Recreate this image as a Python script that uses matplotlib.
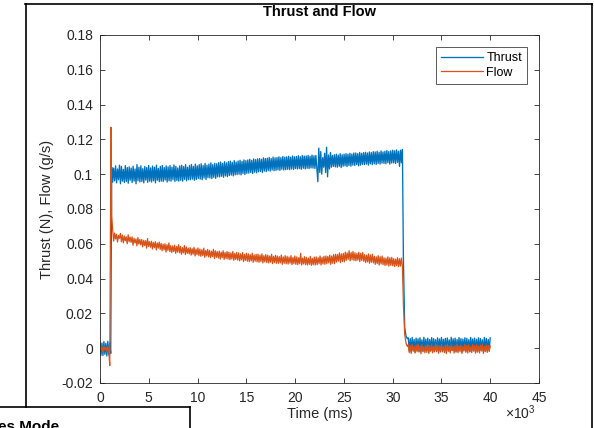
import numpy as np
import matplotlib
matplotlib.use("Agg")
import matplotlib.pyplot as plt
from matplotlib.lines import Line2D
from matplotlib.ticker import FixedLocator, FixedFormatter

plt.rcParams['font.family'] = ['Liberation Sans', 'DejaVu Sans']
plt.rcParams['mathtext.fontset'] = 'custom'
plt.rcParams['mathtext.rm'] = 'Liberation Sans'
plt.rcParams['mathtext.it'] = 'Liberation Sans'

# ---------------- data (values in units of 1e-4) ----------------
series_names = ["Thrust", "Flow"]

thrust_pre = [35, -40, 30, -42, 38, -35, 28, -45, 40, -38, 32, -30]
thrust_main = [
    1040, 955, 1035, 962, 1048, 950, 1030, 968, 1052, 945,
    1045, 960, 1028, 952, 1050, 958, 1038, 948, 1042, 965,
    1035, 952, 1046, 960, 1030, 945, 1055, 962, 1040, 955,
    1048, 958, 1032, 950, 1044, 966, 1038, 953, 1050, 960,
    1036, 955, 1047, 962, 1040, 950, 1052, 965, 1033, 957,
    1045, 960, 1050, 958, 1038, 966, 1048, 955, 1042, 962,
    1050, 960, 1040, 968, 1053, 958, 1045, 964, 1036, 960,
    1048, 965, 1052, 960, 1044, 970, 1055, 962, 1040, 968,
    1050, 968, 1056, 972, 1045, 965, 1058, 970, 1048, 975,
    1055, 972, 1060, 968, 1050, 978, 1062, 970, 1052, 980,
    1058, 978, 1065, 975, 1055, 982, 1062, 976, 1060, 985,
    1066, 984, 1070, 988, 1062, 982, 1072, 990, 1065, 986,
    1072, 992, 1075, 995, 1068, 990, 1078, 996, 1070, 998,
    1076, 1000, 1080, 996, 1074, 1004, 1082, 998, 1078, 1005,
    1082, 1006, 1086, 1010, 1080, 1004, 1088, 1012, 1084, 1008,
    1088, 1014, 1090, 1016, 1086, 1010, 1094, 1018, 1090, 1015,
    1092, 1020, 1096, 1018, 1090, 1024, 1098, 1020, 1094, 1022,
    1096, 1025, 1100, 1022, 1095, 1028, 1102, 1024, 1098, 1026,
    1100, 1028, 1103, 1026, 1098, 1030, 1105, 1027, 1100, 1032,
    1102, 1030, 1106, 1032, 1100, 1028, 1108, 1034, 1104, 1030,
    1105, 1034, 1108, 1032, 1103, 1036, 1110, 1035, 1106, 1033,
    1108, 1035, 957, 1150, 1010, 1130, 1000, 1095, 1040, 1120,
    1010, 1155, 985, 1110, 1030, 1125, 1040, 1108, 1045, 1112,
    1042, 1115, 1040, 1110, 1045, 1118, 1038, 1112, 1046, 1115,
    1048, 1118, 1044, 1115, 1050, 1120, 1046, 1116, 1052, 1122,
    1050, 1122, 1055, 1118, 1048, 1125, 1052, 1120, 1056, 1124,
    1055, 1126, 1058, 1122, 1052, 1128, 1060, 1124, 1055, 1130,
    1060, 1128, 1056, 1132, 1062, 1126, 1058, 1134, 1064, 1128,
    1062, 1132, 1060, 1136, 1066, 1130, 1058, 1134, 1064, 1138,
    1065, 1135, 1062, 1140, 1068, 1132, 1045, 1138, 1066, 1142,
]
thrust_drop = [520, 120, 70, 55]
thrust_post = [
    60, -15, 55, -20, 62, -10, 50, -22, 58, -12,
    54, -18, 60, -8, 48, -20, 63, -15, 52, -10,
    58, -22, 50, -12, 61, -18, 55, -8, 49, -20,
    60, -14, 53, -10, 62, -21, 51, -12, 57, -16,
    59, -9, 48, -19, 63, -13, 54, -11, 58, -20,
    50, -15, 61, -8, 55, -22, 52, -12, 60, -17,
    57, -10, 49, -20, 62, -14, 53, -9, 58, -21,
    51, -13, 60, -16, 55, -10, 48, -19, 62, -12,
    56, -15, 50, -11, 59,
]

flow_pre = [10, -15, 8, -20, 12, -10, 5, -18, 10, -12, -100]
flow_spike = [1270, 760]
flow_main = [
    680, 615, 662, 628, 655, 610, 648, 632, 660, 612,
    650, 605, 645, 618, 640, 600, 652, 612, 638, 608,
    640, 592, 632, 605, 628, 588, 636, 598, 625, 594,
    625, 582, 620, 590, 618, 575, 630, 585, 612, 580,
    615, 570, 608, 578, 612, 565, 605, 575, 610, 568,
    602, 560, 598, 565, 600, 552, 595, 562, 605, 555,
    590, 550, 588, 556, 592, 545, 585, 552, 595, 548,
    585, 540, 578, 548, 590, 538, 582, 545, 575, 542,
    578, 535, 572, 540, 580, 530, 570, 538, 576, 532,
    570, 528, 566, 532, 575, 522, 562, 530, 568, 525,
    562, 520, 558, 526, 568, 515, 560, 522, 555, 518,
    558, 512, 552, 520, 560, 510, 550, 515, 556, 512,
    552, 508, 548, 512, 556, 505, 545, 510, 550, 506,
    548, 502, 542, 508, 550, 498, 540, 505, 546, 500,
    542, 498, 538, 502, 546, 494, 536, 500, 540, 496,
    540, 494, 535, 498, 542, 490, 532, 496, 538, 492,
    535, 490, 530, 494, 540, 486, 528, 492, 534, 488,
    530, 488, 526, 490, 536, 482, 525, 488, 532, 485,
    528, 484, 524, 488, 532, 480, 522, 486, 530, 482,
    525, 480, 520, 485, 545, 478, 518, 484, 526, 480,
    522, 478, 518, 482, 528, 476, 516, 480, 524, 478,
    525, 480, 520, 486, 530, 478, 522, 484, 528, 482,
    530, 485, 528, 490, 535, 482, 530, 488, 538, 486,
    540, 495, 538, 500, 548, 492, 542, 498, 545, 496,
    552, 505, 548, 510, 560, 502, 550, 508, 556, 504,
    548, 502, 545, 506, 552, 498, 546, 504, 550, 500,
    538, 492, 535, 496, 542, 488, 536, 494, 540, 490,
    528, 482, 525, 486, 532, 478, 526, 484, 530, 480,
    520, 475, 518, 478, 525, 472, 520, 476, 522, 474,
    515, 470, 512, 474, 520, 468, 514, 472, 518, 470,
]
flow_drop = [250, 80, 30, 10]
flow_post = [
    20, -25, 15, -30, 22, -18, 10, -28, 18, -20,
    25, -22, 12, -32, 20, -15, 8, -26, 16, -24,
    22, -30, 14, -18, 19, -27, 11, -21, 24, -16,
    18, -29, 13, -22, 21, -17, 9, -25, 17, -31,
    23, -19, 12, -27, 20, -14, 10, -28, 15, -22,
    24, -26, 13, -20, 18, -30, 11, -17, 22, -24,
    16, -28, 19, -21, 8, -25, 21, -18, 14, -29,
    20, -23, 12, -27, 17, -16, 23, -30, 10, -20,
    18, -24, 15, -19, 12,
]

# segment time spans (ms): start, end
thrust_spans = [(0, 1100), (1200, 31000), (31100, 31500), (31600, 40000)]
flow_spans = [(0, 1000), (1120, 1200), (1300, 31000), (31100, 31500), (31600, 40000)]

x_ticks = [0, 5, 10, 15, 20, 25, 30, 35, 40, 45]
y_ticks = [-0.02, 0, 0.02, 0.04, 0.06, 0.08, 0.1, 0.12, 0.14, 0.16, 0.18]
y_tick_labels = ["-0.02", "0", "0.02", "0.04", "0.06", "0.08", "0.1",
                 "0.12", "0.14", "0.16", "0.18"]


def build(spans, parts):
    ts, vs = [], []
    for (a, b), p in zip(spans, parts):
        ts.append(np.linspace(a, b, len(p)))
        vs.append(np.array(p, dtype=float) * 1e-4)
    return np.concatenate(ts), np.concatenate(vs)


t_thrust, thrust = build(thrust_spans, [thrust_pre, thrust_main, thrust_drop, thrust_post])
t_flow, flow = build(flow_spans, [flow_pre, flow_spike, flow_main, flow_drop, flow_post])

# ---------------- figure ----------------
W, H = 594, 428
fig = plt.figure(figsize=(W / 100, H / 100), dpi=100)
fig.patch.set_facecolor('white')

ax_l, ax_r, ax_t, ax_b = 100, 539, 35, 383
ax = fig.add_axes([ax_l / W, 1 - ax_b / H, (ax_r - ax_l) / W, (ax_b - ax_t) / H])

ax.plot(t_thrust, thrust, color='#0072BD', lw=0.95, label=series_names[0])
ax.plot(t_flow, flow, color='#D95319', lw=0.9, label=series_names[1])

ax.set_xlim(0, 45000)
ax.set_ylim(-0.02, 0.18)
ax.xaxis.set_major_locator(FixedLocator([v * 1000 for v in x_ticks]))
ax.xaxis.set_major_formatter(FixedFormatter([str(v) for v in x_ticks]))
ax.yaxis.set_major_locator(FixedLocator(y_ticks))
ax.yaxis.set_major_formatter(FixedFormatter(y_tick_labels))

spine_c = '#262626'
for s in ax.spines.values():
    s.set_color(spine_c)
    s.set_linewidth(0.6)
ax.tick_params(direction='in', length=3.5, width=0.6, color=spine_c,
               top=True, right=True, labelsize=10, labelcolor='#262626')
ax.tick_params(axis='x', pad=6)
ax.tick_params(axis='y', pad=5)

ax.set_xlabel('Time (ms)', fontsize=10.5, color='#262626')
ax.xaxis.set_label_coords(0.5, (ax_b - 414) / (ax_b - ax_t))
ax.xaxis.label.set_va('center')
ax.set_ylabel('Thrust (N), Flow (g/s)', fontsize=10.5, color='#262626')
ax.yaxis.set_label_coords((47 - ax_l) / (ax_r - ax_l), 0.5)
ax.yaxis.label.set_va('center')
ax.yaxis.label.set_ha('center')

ax.set_title('Thrust and Flow', fontsize=10.5, fontweight='bold', color='#000000',
             y=1 + (ax_t - 12) / (ax_b - ax_t), va='center', pad=0)

fig.text(520 / W, 1 - 413 / H, r'$\times 10^{3}$', ha='center', va='center',
         fontsize=10, color='#262626')

leg = ax.legend(loc='upper right',
                bbox_to_anchor=((527 - ax_l) / (ax_r - ax_l), (ax_b - 47) / (ax_b - ax_t)),
                borderaxespad=0, fontsize=9, handlelength=3.3, handletextpad=0.3,
                fancybox=False, framealpha=1, edgecolor='#404040',
                borderpad=0.4, labelspacing=0.2)
leg.get_frame().set_linewidth(0.6)

# ---------------- screenshot frame lines ----------------
def fline(x0, y0, x1, y1):
    fig.add_artist(Line2D([x0 / W, x1 / W], [1 - y0 / H, 1 - y1 / H],
                          transform=fig.transFigure, color='black', lw=1.2))

fline(25.5, 4, 25.5, 407)
fline(25, 4, 592, 4)
fline(592, 4, 592, 428)
fline(0, 407, 190, 407)
fline(190, 407, 190, 428)

fig.text(-2 / W, 1 - 420 / H, 'es Mode', ha='left', va='top',
         fontsize=11, fontweight='bold', color='black')

fig.savefig('out.png', dpi=100)
